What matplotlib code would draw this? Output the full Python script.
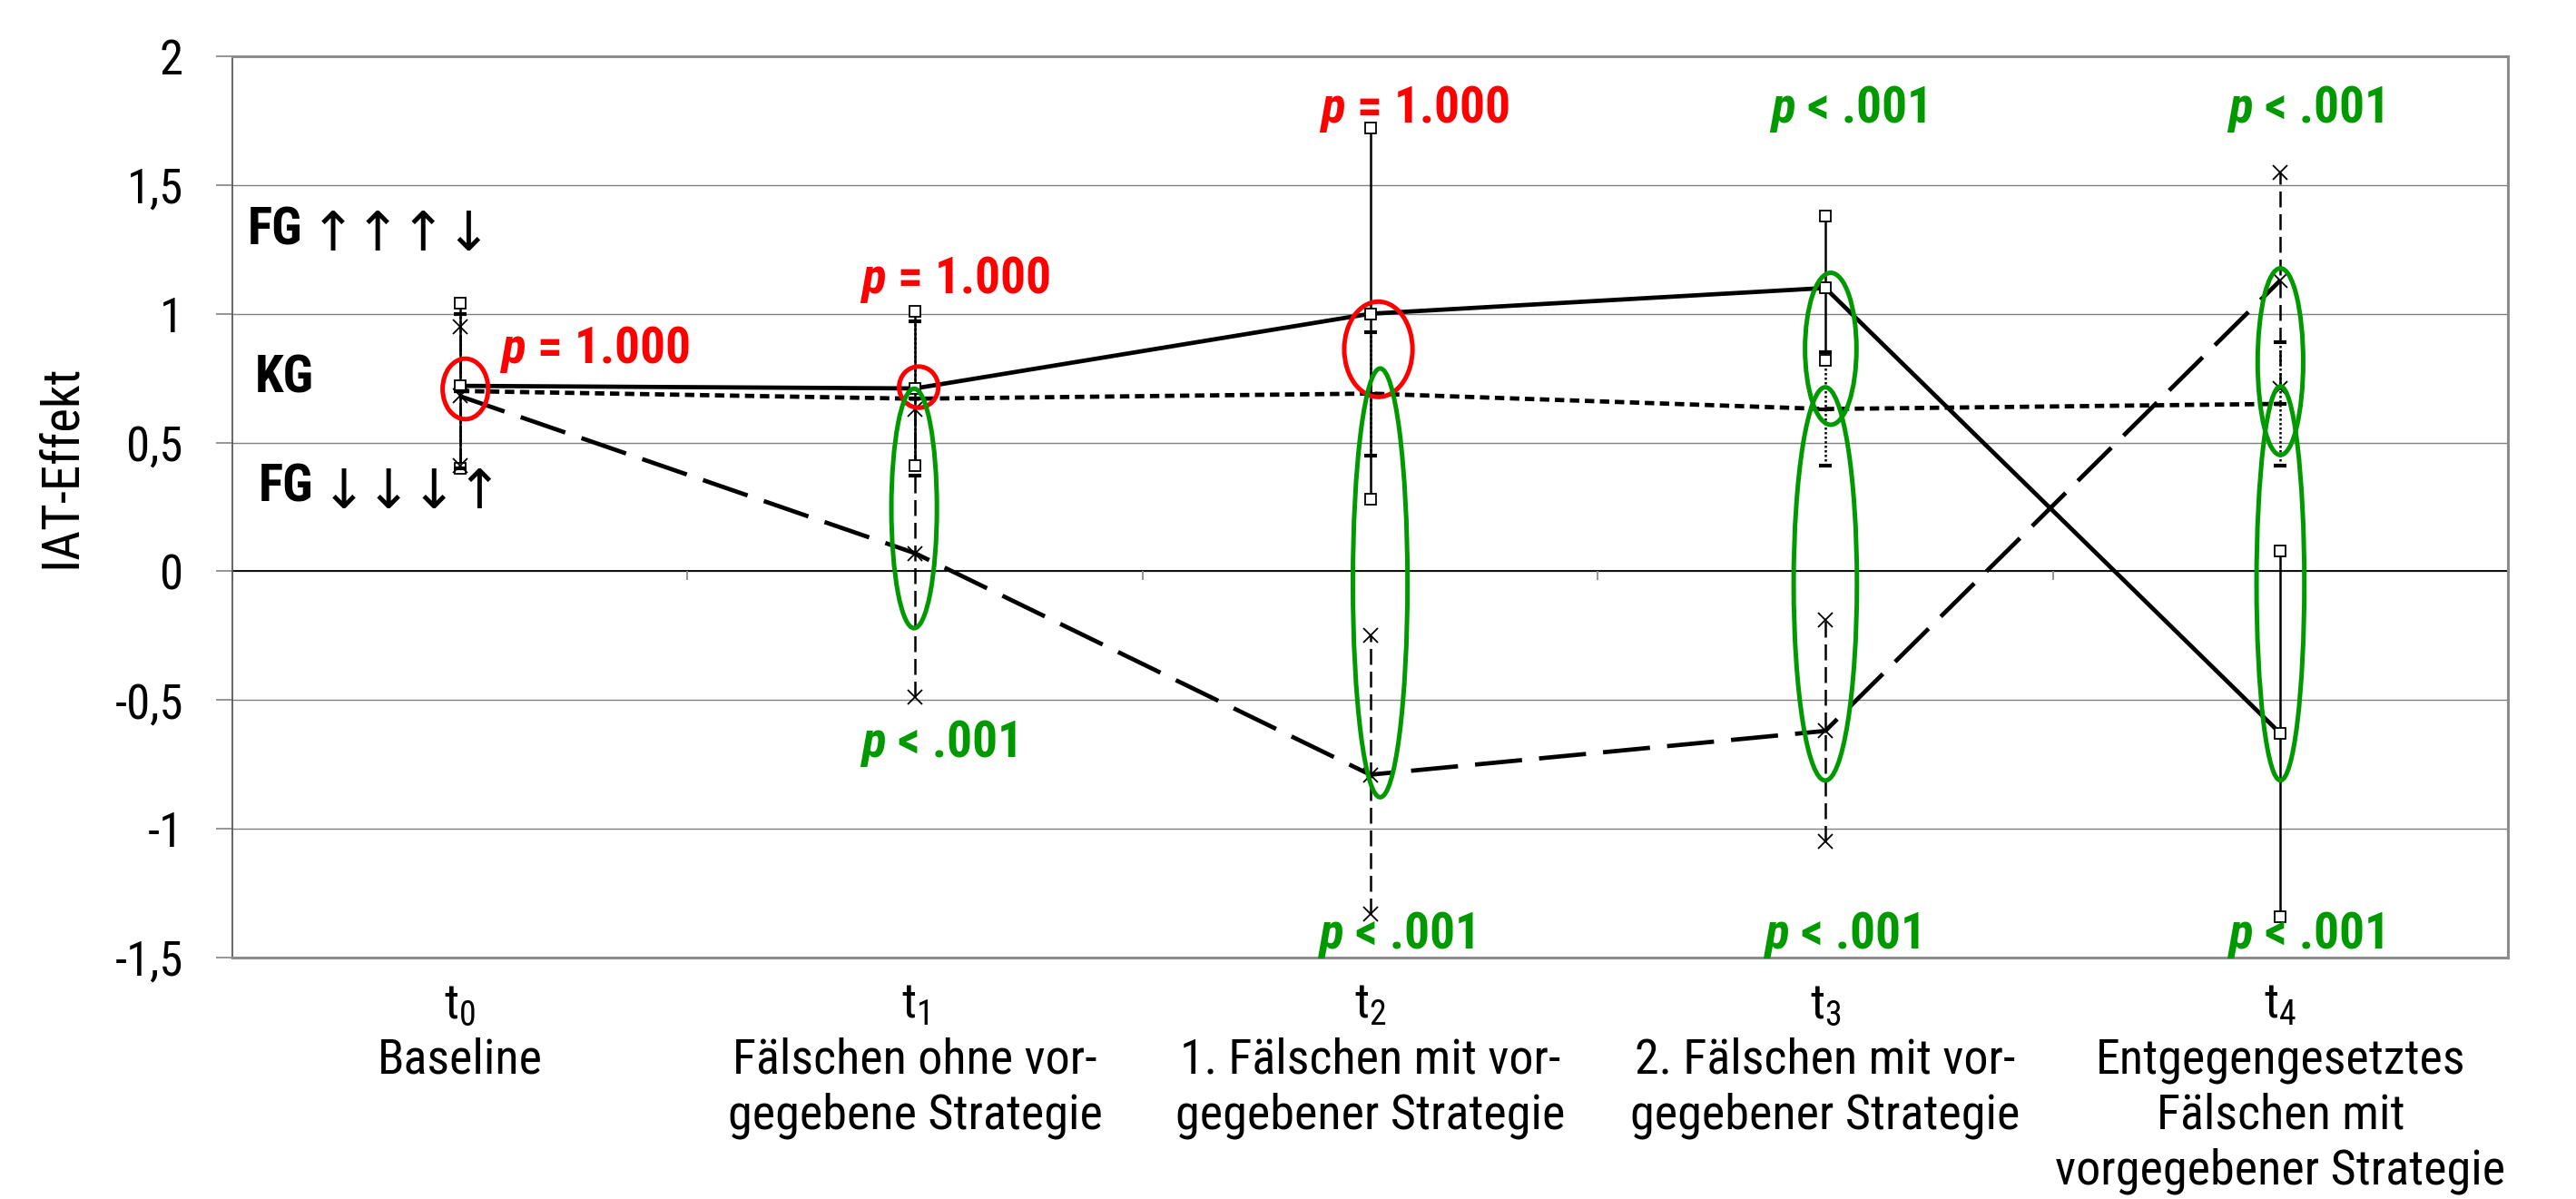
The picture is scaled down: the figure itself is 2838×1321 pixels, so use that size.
import numpy as np
import matplotlib
matplotlib.use("Agg")
import matplotlib.pyplot as plt
from matplotlib import font_manager
from matplotlib.patches import Ellipse

# pick a narrow font if one is installed
installed = {f.name for f in font_manager.fontManager.ttflist}
FONT = "Roboto"
for cand in ["Roboto Condensed", "Liberation Sans Narrow", "Roboto"]:
    if cand in installed:
        FONT = cand
        break

plt.rcParams["font.family"] = [FONT, "DejaVu Sans"]
plt.rcParams["mathtext.fontset"] = "custom"
plt.rcParams["mathtext.rm"] = FONT
plt.rcParams["mathtext.it"] = FONT + ":italic"
plt.rcParams["mathtext.bf"] = FONT + ":bold"
plt.rcParams["mathtext.bfit"] = FONT + ":italic:bold"

# x categories
time_points = ["t_0", "t_1", "t_2", "t_3", "t_4"]
phases = ["Baseline",
          "Fälschen ohne vor-\ngegebene Strategie",
          "1. Fälschen mit vor-\ngegebener Strategie",
          "2. Fälschen mit vor-\ngegebener Strategie",
          "Entgegengesetztes\nFälschen mit\nvorgegebener Strategie"]

# IAT effect, mean and SD per group
fg_up_mean = [0.72, 0.71, 1.00, 1.10, -0.63]
fg_up_sd = [0.32, 0.30, 0.72, 0.28, 0.71]
kg_mean = [0.70, 0.67, 0.69, 0.63, 0.65]
kg_sd = [0.30, 0.30, 0.24, 0.22, 0.24]
fg_down_mean = [0.68, 0.07, -0.79, -0.62, 1.13]
fg_down_sd = [0.27, 0.56, 0.54, 0.43, 0.42]

yticks = [2, 1.5, 1, 0.5, 0, -0.5, -1, -1.5]
ytick_labels = ["2", "1,5", "1", "0,5", "0", "-0,5", "-1", "-1,5"]

group_names = ["FG", "KG", "FG"]
group_arrows = ["↑↑↑↓", "", "↓↓↓↑"]
group_name_pos = [(-0.467, 1.27), (-0.45, 0.695), (-0.442, 0.27)]

# p-value notes: text, colour, x, y, alignment
p_notes = [
    ("$\\mathbfit{p}$ = 1.000", "red", 0.086, 0.81, "left"),
    ("$\\mathbfit{p}$ = 1.000", "red", 1.088, 1.08, "center"),
    ("$\\mathbfit{p}$ = 1.000", "red", 2.096, 1.742, "center"),
    ("$\\mathbfit{p}$ < .001", "#009a00", 1.051, -0.72, "center"),
    ("$\\mathbfit{p}$ < .001", "#009a00", 2.056, -1.464, "center"),
    ("$\\mathbfit{p}$ < .001", "#009a00", 3.049, 1.742, "center"),
    ("$\\mathbfit{p}$ < .001", "#009a00", 4.055, 1.742, "center"),
    ("$\\mathbfit{p}$ < .001", "#009a00", 3.034, -1.464, "center"),
    ("$\\mathbfit{p}$ < .001", "#009a00", 4.055, -1.464, "center"),
]

# highlight ellipses: x, y, width, height
red_rings = [(0.012, 0.708, 0.10, 0.235), (1.008, 0.715, 0.086, 0.16),
             (2.018, 0.862, 0.15, 0.37)]
green_rings = [(0.998, 0.244, 0.10, 0.93), (2.022, -0.045, 0.12, 1.665),
               (3.012, 0.864, 0.113, 0.59), (3.0, -0.049, 0.139, 1.527),
               (4.0, 0.814, 0.10, 0.725), (4.0, -0.047, 0.105, 1.53)]

fig = plt.figure(figsize=(28.38, 13.21), dpi=100)
ax = fig.add_axes([0.0902, 0.2014, 0.8834, 0.7517])
x = np.arange(len(phases))

series = [
    (fg_up_mean, fg_up_sd, "-", "-", "s"),
    (kg_mean, kg_sd, (0, (2.2, 1.3)), (0, (1, 1)), "_"),
    (fg_down_mean, fg_down_sd, (0, (11, 4)), (0, (7, 3)), "x"),
]
for mean, sd, ls, els, mk in series:
    mean = np.array(mean)
    sd = np.array(sd)
    ax.vlines(x, mean - sd, mean + sd, colors="black", linewidth=1.8,
              linestyles=[els], zorder=3)
    ax.plot(x, mean, color="black", linewidth=3.4, linestyle=ls, zorder=4)
    for vals in (mean, mean - sd, mean + sd):
        if mk == "s":
            ax.plot(x, vals, ls="none", marker="s", ms=9, mfc="white",
                    mec="black", mew=1.3, zorder=5)
        elif mk == "x":
            ax.plot(x, vals, ls="none", marker="x", ms=11, mec="black",
                    mew=1.3, zorder=5)
        else:
            ax.plot(x, vals, ls="none", marker="_", ms=10, mec="black",
                    mew=3, zorder=5)

for cx, cy, w, h in red_rings:
    ax.add_patch(Ellipse((cx, cy), w, h, fill=False, edgecolor="red",
                         linewidth=3.6, zorder=6))
for cx, cy, w, h in green_rings:
    ax.add_patch(Ellipse((cx, cy), w, h, fill=False, edgecolor="#009a00",
                         linewidth=3.6, zorder=6))

for txt, col, tx, ty, ha in p_notes:
    ax.text(tx, ty, txt, color=col, fontsize=40, fontweight="bold",
            ha=ha, va="baseline", zorder=7)

for name, arrows, (gx, gy) in zip(group_names, group_arrows, group_name_pos):
    lbl = ax.text(gx, gy, name, fontsize=41, fontweight="bold", ha="left",
                  va="baseline", zorder=7)
    if arrows:
        ax.annotate(arrows, xy=(1, 0), xycoords=lbl, xytext=(6, -6),
                    textcoords="offset points", fontsize=43,
                    family="DejaVu Sans", ha="left", va="bottom", zorder=7)

# axis crossing at zero with small category ticks
ax.axhline(0, color="black", linewidth=1.3, zorder=1)
bounds = np.arange(len(phases) + 1) - 0.5
ax.vlines(bounds, -0.035, 0, colors="#8c8c8c", linewidth=1.3, zorder=1)

ax.set_xlim(-0.5, len(phases) - 0.5)
ax.set_ylim(-1.5, 2)
ax.set_yticks(yticks, ytick_labels)
ax.yaxis.grid(True, color="#808080", linewidth=1.0)
ax.set_axisbelow(True)
ax.tick_params(axis="y", length=13, width=1.3, color="#8c8c8c", pad=26,
               labelsize=38)
xlabels = ["$\\mathregular{%s}$\n%s" % (t, p) for t, p in zip(time_points, phases)]
ax.set_xticks(x, xlabels)
ax.tick_params(axis="x", length=0, pad=19, labelsize=39)
for lab in ax.get_xticklabels():
    lab.set_linespacing(1.25)

ax.spines["left"].set_color("#595959")
ax.spines["left"].set_linewidth(1.3)
for side in ("top", "right", "bottom"):
    ax.spines[side].set_color("#8c8c8c")
    ax.spines[side].set_linewidth(2.2)

fig.text(0.0236, 0.611, "IAT-Effekt", rotation=90, fontsize=41,
         ha="center", va="center")

fig.savefig("out.png", dpi=100, facecolor="white")
